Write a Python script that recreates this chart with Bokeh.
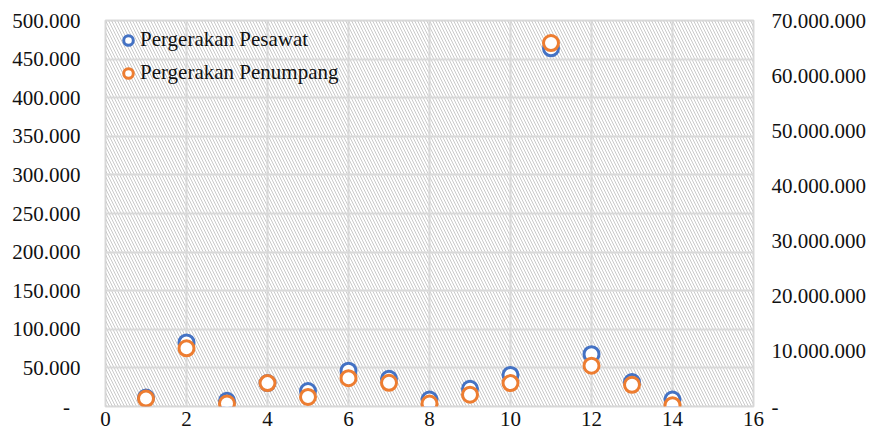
from bokeh.plotting import figure
from bokeh.models import (LinearAxis, Range1d, FixedTicker, BoxAnnotation, Legend, LegendItem)
from bokeh.embed import file_html
from bokeh.resources import INLINE

# ---- data ----
x_vals = [1, 2, 3, 4, 5, 6, 7, 8, 9, 10, 11, 12, 13, 14]
pesawat = [11500, 83000, 7300, 30300, 20000, 46400, 35800, 9000, 23000, 40900, 464000, 67800, 31600, 9000]
penumpang = [1430000, 10560000, 540000, 4240000, 1740000, 5140000, 4300000, 540000, 2150000, 4240000,
             65900000, 7400000, 3940000, 230000]

x_ticks = [0, 2, 4, 6, 8, 10, 12, 14, 16]
left_ticks = [0, 50000, 100000, 150000, 200000, 250000, 300000, 350000, 400000, 450000, 500000]
left_labels = ["-\u00a0\u00a0", "50.000", "100.000", "150.000", "200.000", "250.000",
               "300.000", "350.000", "400.000", "450.000", "500.000"]
right_ticks = [0, 10000000, 20000000, 30000000, 40000000, 50000000, 60000000, 70000000]
right_labels = ["-", "10.000.000", "20.000.000", "30.000.000", "40.000.000", "50.000.000",
                "60.000.000", "70.000.000"]
series_names = ["Pergerakan Pesawat", "Pergerakan Penumpang"]

FONT = "Liberation Serif"
FS = "21px"
BLUE = "#4472C4"
ORANGE = "#ED7D31"
GRID = "#d9d9d9"

p = figure(width=869, height=432, output_backend="svg", toolbar_location=None,
           x_range=Range1d(0, 16), y_range=Range1d(0, 500000),
           min_border_left=105, min_border_right=113, min_border_top=20, min_border_bottom=26)
p.extra_y_ranges = {"right": Range1d(0, 70000000)}
p.outline_line_color = GRID
p.outline_line_width = 2
p.background_fill_color = "white"
p.border_fill_color = "white"

# hatched plot area
hatch = BoxAnnotation(fill_alpha=0, line_color=None, hatch_pattern="\\", hatch_color="#c9c9c9",
                      hatch_scale=6, hatch_weight=1.0, level="image")
p.add_layout(hatch)

# axes
p.xaxis.ticker = FixedTicker(ticks=x_ticks)
p.yaxis.ticker = FixedTicker(ticks=left_ticks)
p.yaxis.major_label_overrides = {t: l for t, l in zip(left_ticks, left_labels)}

raxis = LinearAxis(y_range_name="right", ticker=FixedTicker(ticks=right_ticks))
raxis.major_label_overrides = {t: l for t, l in zip(right_ticks, right_labels)}
p.add_layout(raxis, "right")

for ax in [p.xaxis[0], p.yaxis[0], raxis]:
    ax.axis_line_color = None
    ax.major_tick_line_color = None
    ax.minor_tick_line_color = None
    ax.major_tick_out = 0
    ax.major_tick_in = 0
    ax.major_label_text_font = FONT
    ax.major_label_text_font_size = FS
    ax.major_label_text_color = "#111111"
p.xaxis.major_label_standoff = 5
p.yaxis[0].major_label_standoff = 25
raxis.major_label_standoff = 18

p.xgrid.ticker = FixedTicker(ticks=x_ticks)
p.ygrid.ticker = FixedTicker(ticks=left_ticks)
p.xgrid.grid_line_color = GRID
p.ygrid.grid_line_color = GRID
p.xgrid.grid_line_width = 2
p.ygrid.grid_line_width = 2

r1 = p.scatter(x_vals, pesawat, size=15, marker="circle", fill_color="white",
               line_color=BLUE, line_width=3)
r2 = p.scatter(x_vals, penumpang, size=15, marker="circle", fill_color="white",
               line_color=ORANGE, line_width=3, y_range_name="right")

legend = Legend(items=[LegendItem(label=series_names[0], renderers=[r1]),
                       LegendItem(label=series_names[1], renderers=[r2])],
                location=(11, 321), padding=5, spacing=8, glyph_width=24, glyph_height=24,
                label_height=24, label_standoff=0, label_text_font=FONT, label_text_font_size=FS,
                label_text_color="#111111", background_fill_alpha=0, border_line_color=None)
p.add_layout(legend, "center")

open("out.html", "w").write(file_html(p, INLINE))
